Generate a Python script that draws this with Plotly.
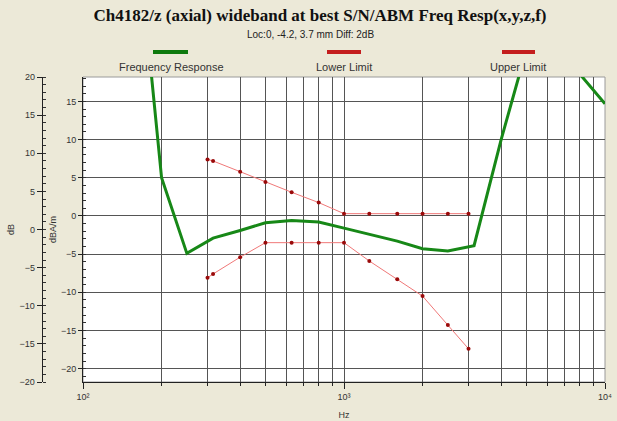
import plotly.graph_objects as go

# ---------------- data ----------------
resp_freq_hz = [160, 200, 250, 315, 400, 500, 630, 800, 1000, 1250, 1600,
                2000, 2500, 3150, 4000, 5000, 6300, 8000, 10000]
resp_db = [38.5, 5.0, -4.9, -2.9, -1.9, -0.9, -0.6, -0.8, -1.6, -2.4, -3.3,
           -4.3, -4.6, -3.9, 10.0, 21.8, 22.0, 18.6, 14.7]

limit_freq_hz = [300, 315, 400, 500, 630, 800, 1000, 1250, 1600, 2000, 2500, 3000]
upper_limit_db = [7.4, 7.2, 5.8, 4.45, 3.1, 1.75, 0.3, 0.3, 0.3, 0.3, 0.3, 0.3]
lower_limit_db = [-8.1, -7.6, -5.4, -3.5, -3.5, -3.5, -3.5, -5.9, -8.3, -10.5, -14.3, -17.4]

x_major_ticks = [100, 1000, 10000]
x_major_labels = ["10²", "10³", "10⁴"]
x_minor_ticks = [200, 300, 400, 500, 600, 700, 800, 900,
                 2000, 3000, 4000, 5000, 6000, 7000, 8000, 9000]
inner_y_ticks = [15, 10, 5, 0, -5, -10, -15, -20]
outer_y_ticks = [20, 15, 10, 5, 0, -5, -10, -15, -20]

title_text = "Ch4182/z (axial) wideband at best S/N/ABM Freq Resp(x,y,z,f)"
subtitle_text = "Loc:0, -4.2, 3.7 mm Diff: 2dB"
legend_names = ["Frequency Response", "Lower Limit", "Upper Limit"]

# ---------------- layout geometry ----------------
W, H = 617, 421
ML, MR, MT, MB = 20, 12, 77, 39
PW = W - ML - MR
PH = H - MT - MB


def px_x(px):
    return (px - ML) / PW


def px_y(py):
    return (H - MB - py) / PH


GREEN = "#178817"
LIMIT_LINE = "#f07878"
LIMIT_MARK = "#9a0a0a"
GRID = "#555555"
FONT = "Liberation Sans, Arial, sans-serif"

fig = go.Figure()

fig.add_trace(go.Scatter(
    x=resp_freq_hz, y=resp_db, mode="lines",
    line=dict(color=GREEN, width=3), name=legend_names[0], showlegend=False))
fig.add_trace(go.Scatter(
    x=limit_freq_hz, y=lower_limit_db, mode="lines+markers",
    line=dict(color=LIMIT_LINE, width=1),
    marker=dict(color=LIMIT_MARK, size=4), name=legend_names[1], showlegend=False))
fig.add_trace(go.Scatter(
    x=limit_freq_hz, y=upper_limit_db, mode="lines+markers",
    line=dict(color=LIMIT_LINE, width=1),
    marker=dict(color=LIMIT_MARK, size=4), name=legend_names[2], showlegend=False))
# trace bound to the outer dB axis so it is drawn
fig.add_trace(go.Scatter(x=[None], y=[None], yaxis="y2", showlegend=False,
                         hoverinfo="skip"))

x_dom0 = px_x(83)

fig.update_layout(
    width=W, height=H,
    margin=dict(l=ML, r=MR, t=MT, b=MB),
    paper_bgcolor="#ECE9D8",
    plot_bgcolor="white",
    font=dict(family=FONT, size=9, color="#333333"),
    title=dict(text="<b>" + title_text + "</b>",
               font=dict(family="Liberation Serif, Times New Roman, serif",
                         size=17, color="#111111"),
               x=320 / W, xref="container", xanchor="center",
               y=1 - 15 / H, yref="container", yanchor="middle"),
    xaxis=dict(
        type="log", range=[2, 4], domain=[x_dom0, 1],
        tickmode="array", tickvals=x_major_ticks, ticktext=x_major_labels,
        ticks="outside", ticklen=6, tickcolor="#222",
        showline=True, linecolor="#222", linewidth=1,
        showgrid=True, gridcolor=GRID, gridwidth=1,
        minor=dict(tickmode="array", tickvals=x_minor_ticks, ticks="outside",
                   ticklen=3, tickcolor="#222", showgrid=True,
                   gridcolor=GRID, gridwidth=1),
        title=dict(text="Hz", font=dict(size=9), standoff=10),
        tickfont=dict(size=9, color="#333"),
        automargin=False, zeroline=False,
    ),
    yaxis=dict(
        range=[-21.75, 18.2],
        tickmode="array", tickvals=inner_y_ticks,
        ticks="outside", ticklen=4, tickcolor="#222",
        showline=True, linecolor="#222", linewidth=1,
        showgrid=True, gridcolor=GRID, gridwidth=1, zeroline=False,
        minor=dict(dtick=1, ticks="inside", ticklen=3, tickcolor="#333",
                   showgrid=False),
        title=dict(text="dBA/m", font=dict(size=9), standoff=2),
        tickfont=dict(size=9, color="#333"),
        automargin=False,
    ),
    yaxis2=dict(
        range=[-20, 20], overlaying="y", anchor="free", position=px_x(41.7),
        side="left",
        tickmode="array", tickvals=outer_y_ticks,
        ticks="outside", ticklen=5, tickcolor="#222",
        showline=True, linecolor="#222", linewidth=1,
        showgrid=False, zeroline=False,
        minor=dict(dtick=1, ticks="inside", ticklen=3, tickcolor="#333",
                   showgrid=False),
        title=dict(text="dB", font=dict(size=9), standoff=2),
        tickfont=dict(size=9, color="#333"),
        automargin=False,
    ),
)

shapes = [
    dict(type="rect", xref="x domain", yref="y domain", x0=0, x1=1, y0=0, y1=1,
         line=dict(color="#9a9a9a", width=1), layer="below"),
    dict(type="line", xref="paper", yref="paper", x0=px_x(153), x1=px_x(188),
         y0=px_y(52), y1=px_y(52), line=dict(color="#0e7a0e", width=4)),
    dict(type="line", xref="paper", yref="paper", x0=px_x(327), x1=px_x(361),
         y0=px_y(52), y1=px_y(52), line=dict(color="#c41e1e", width=4)),
    dict(type="line", xref="paper", yref="paper", x0=px_x(502), x1=px_x(535),
         y0=px_y(52), y1=px_y(52), line=dict(color="#c41e1e", width=4)),
]
fig.update_layout(shapes=shapes)

annotations = [
    dict(text=subtitle_text, xref="paper", yref="paper", x=px_x(310), y=px_y(35),
         showarrow=False, font=dict(size=10, color="#222"), xanchor="center",
         yanchor="middle"),
    dict(text=legend_names[0], xref="paper", yref="paper", x=px_x(171), y=px_y(67),
         showarrow=False, font=dict(size=11, color="#333"), xanchor="center",
         yanchor="middle"),
    dict(text=legend_names[1], xref="paper", yref="paper", x=px_x(344), y=px_y(67),
         showarrow=False, font=dict(size=11, color="#333"), xanchor="center",
         yanchor="middle"),
    dict(text=legend_names[2], xref="paper", yref="paper", x=px_x(518), y=px_y(67),
         showarrow=False, font=dict(size=11, color="#333"), xanchor="center",
         yanchor="middle"),
]
fig.update_layout(annotations=annotations)

fig.write_html("out.html",
               config={"displayModeBar": False},
               post_script="document.body.style.margin='0';")
